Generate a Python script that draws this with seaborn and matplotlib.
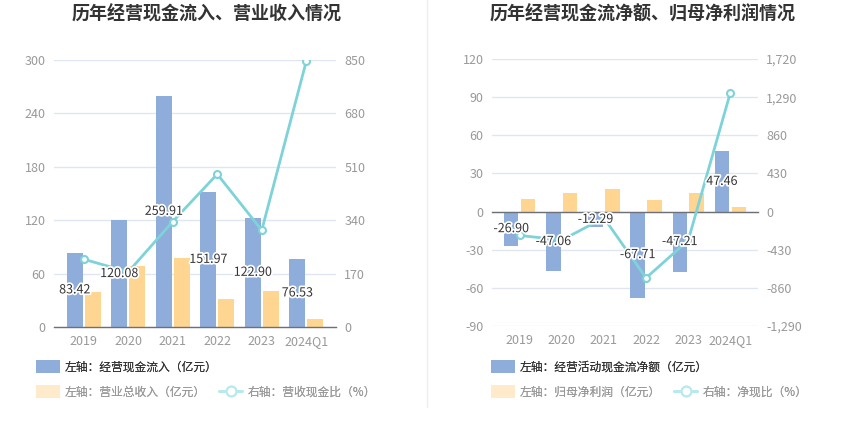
import numpy as np
import pandas as pd
import matplotlib
matplotlib.use("Agg")
import matplotlib.pyplot as plt
import seaborn as sns
from matplotlib.patches import Patch
from matplotlib.lines import Line2D
import matplotlib.patheffects as pe
from matplotlib.ticker import FuncFormatter, FixedLocator

# ---------------- data ----------------
categories = ["2019", "2020", "2021", "2022", "2023", "2024Q1"]

cash_inflow = [83.42, 120.08, 259.91, 151.97, 122.90, 76.53]      # 经营现金流入 (亿元)
revenue = [39.4, 68.6, 77.6, 31.5, 40.1, 9.0]                      # 营业总收入 (亿元)
inflow_ratio = [215.7, 175.3, 335.8, 486.6, 308.0, 845.8]          # 营收现金比 (%)

net_cash_flow = [-26.90, -47.06, -12.29, -67.71, -47.21, 47.46]    # 经营活动现金流净额 (亿元)
net_profit = [9.7, 15.0, 17.6, 8.9, 14.4, 3.4]                     # 归母净利润 (亿元)
net_ratio = [-269.0, -321.6, -71.0, -748.0, -325.0, 1338.6]        # 净现比 (%)

left_ticks_1 = [0, 60, 120, 180, 240, 300]
right_ticks_1 = [0, 170, 340, 510, 680, 850]
left_ticks_2 = [-90, -60, -30, 0, 30, 60, 90, 120]
right_ticks_2 = [-1290, -860, -430, 0, 430, 860, 1290, 1720]

titles = ["历年经营现金流入、营业收入情况", "历年经营现金流净额、归母净利润情况"]
names_1 = ["左轴：经营现金流入（亿元）", "左轴：营业总收入（亿元）", "右轴：营收现金比（%）"]
names_2 = ["左轴：经营活动现金流净额（亿元）", "左轴：归母净利润（亿元）", "右轴：净现比（%）"]

# ---------------- style ----------------
BLUE = "#8EADDB"
ORANGE = "#FFD691"
ORANGE_LEG = "#FFEBCB"
TEAL = "#7ED3D8"
TEAL_LEG = "#B8E9EC"
GRID = "#E0E6F1"
AXIS = "#6E7079"
TICK_TXT = "#999999"

sns.set_theme(style="white")
plt.rcParams["font.family"] = ["Noto Sans CJK SC", "DejaVu Sans"]
plt.rcParams["axes.unicode_minus"] = False

W, H = 850, 437
fig = plt.figure(figsize=(W / 100, H / 100), dpi=100)
fig.patch.set_facecolor("white")


def frac_rect(x0, x1, ytop, ybot):
    return [x0 / W, 1 - ybot / H, (x1 - x0) / W, (ybot - ytop) / H]


def draw_panel(rect, title, title_cx, bars1, bars2, line, names, lt, rt,
               gap, leg_x):
    ax = fig.add_axes(rect)
    df = pd.DataFrame({
        "cat": categories * 2,
        "val": list(bars1) + list(bars2),
        "series": [names[0]] * len(categories) + [names[1]] * len(categories),
    })
    sns.barplot(data=df, x="cat", y="val", hue="series", order=categories,
                hue_order=[names[0], names[1]],
                palette={names[0]: BLUE, names[1]: ORANGE}, saturation=1,
                gap=gap, width=0.8, legend=False, ax=ax, zorder=2,
                linewidth=0, errorbar=None)
    ax.set_xlabel("")
    ax.set_ylabel("")
    ax.set_ylim(lt[0], lt[-1])
    ax.yaxis.set_major_locator(FixedLocator(lt))
    ax.yaxis.grid(True, color=GRID, lw=1, zorder=0)
    ax.set_axisbelow(True)
    for s in ["top", "right", "left"]:
        ax.spines[s].set_visible(False)
    ax.spines["bottom"].set_position(("data", 0))
    ax.spines["bottom"].set_color(AXIS)
    ax.spines["bottom"].set_linewidth(1)
    ax.tick_params(axis="y", length=0, pad=6, labelsize=9, labelcolor=TICK_TXT)

    # x tick labels always at the bottom of plot area
    h_pt = rect[3] * H * 72 / 100
    zero_frac = (0 - lt[0]) / (lt[-1] - lt[0])
    ax.tick_params(axis="x", direction="out", length=3.5, width=1, color=AXIS,
                   pad=h_pt * zero_frac + 2.5, labelsize=9, labelcolor=TICK_TXT)

    # right axis with line
    ax2 = ax.twinx()
    sns.lineplot(x=np.arange(len(categories)), y=line, ax=ax2, color=TEAL,
                 lw=2, marker="o", markersize=5, markerfacecolor="white",
                 markeredgecolor=TEAL, markeredgewidth=1.5, zorder=3)
    ax2.set_ylim(rt[0], rt[-1])
    ax2.yaxis.set_major_locator(FixedLocator(rt))
    ax2.yaxis.set_major_formatter(FuncFormatter(lambda v, p: f"{v:,.0f}"))
    ax2.tick_params(axis="y", length=0, pad=6, labelsize=9, labelcolor=TICK_TXT)
    ax2.set_ylabel("")
    for s in ax2.spines.values():
        s.set_visible(False)
    ax2.grid(False)

    # value labels at middle of the first series bars
    for bar, v in zip(ax.containers[0], bars1):
        cx = bar.get_x() + bar.get_width() / 2
        ax2.text(cx, bar.get_height() / 2, f"{v:.2f}", transform=ax.transData,
                 ha="center", va="center", fontsize=9, color="#333333", zorder=5,
                 path_effects=[pe.withStroke(linewidth=2.5, foreground="white")])

    fig.text(title_cx / W, 1 - 14 / H, title, ha="center", va="center",
             fontsize=13, fontweight="bold", color="#333333")

    common = dict(frameon=False, borderpad=0, handlelength=2.0, handleheight=1.2,
                  handletextpad=0.45, fontsize=8.5, loc="center left")
    h1 = [Patch(facecolor=BLUE, edgecolor="none")]
    leg1 = fig.legend(handles=h1, labels=[names[0]],
                      bbox_to_anchor=(leg_x / W, 1 - 367 / H),
                      labelcolor=["#333333"], **common)
    fig.add_artist(leg1)
    h2 = [Patch(facecolor=ORANGE_LEG, edgecolor="none"),
          Line2D([0], [0], color=TEAL_LEG, lw=2, marker="o", markersize=7,
                 markerfacecolor="white", markeredgecolor=TEAL_LEG,
                 markeredgewidth=1.5)]
    leg2 = fig.legend(handles=h2, labels=[names[1], names[2]], ncol=2,
                      columnspacing=1.1,
                      bbox_to_anchor=(leg_x / W, 1 - 392 / H),
                      labelcolor=[TICK_TXT, TICK_TXT], **common)
    fig.add_artist(leg2)
    return ax, ax2


draw_panel(frac_rect(54, 336, 60, 327), titles[0], 207,
           cash_inflow, revenue, inflow_ratio, names_1,
           left_ticks_1, right_ticks_1, 0.1, 30)
draw_panel(frac_rect(492, 758, 59, 326), titles[1], 643,
           net_cash_flow, net_profit, net_ratio, names_2,
           left_ticks_2, right_ticks_2, 0.15, 485)

fig.add_artist(Line2D([427 / W, 427 / W], [1, 1 - 407 / H], color="#EEEEEE",
                      lw=1, transform=fig.transFigure))

fig.savefig("out.png", dpi=100, facecolor="white")
